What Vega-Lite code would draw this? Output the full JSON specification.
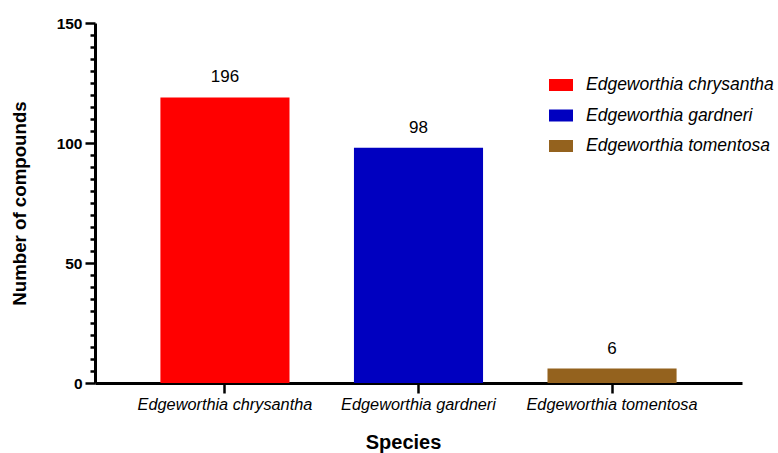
{
  "$schema": "https://vega.github.io/schema/vega-lite/v6.json",
  "width": 647,
  "height": 360,
  "autosize": {"type": "none"},
  "padding": {"left": 95, "top": 23, "right": 36, "bottom": 70},
  "background": "white",
  "config": {
    "view": {"stroke": null},
    "font": "Liberation Sans"
  },
  "data": {
    "values": [
      {"species": "Edgeworthia chrysantha", "bar_height": 119, "label": 196},
      {"species": "Edgeworthia gardneri", "bar_height": 98, "label": 98},
      {"species": "Edgeworthia tomentosa", "bar_height": 6, "label": 6}
    ]
  },
  "encoding": {
    "x": {
      "field": "species",
      "type": "nominal",
      "sort": null,
      "scale": {"paddingInner": 0.333, "paddingOuter": 0.338, "align": 0.5},
      "axis": {
        "title": "Species",
        "titleFont": "Liberation Sans",
        "titleFontSize": 20,
        "titleFontWeight": "bold",
        "titleColor": "black",
        "titlePadding": 20,
        "titleX": 308,
        "titleAlign": "center",
        "labelAngle": 0,
        "labelFont": "Liberation Sans",
        "labelFontSize": 16.3,
        "labelFontStyle": "italic",
        "labelColor": "black",
        "labelPadding": 3,
        "tickSize": 10,
        "tickWidth": 2.5,
        "tickColor": "black",
        "domainColor": "black",
        "domainWidth": 3
      }
    },
    "y": {
      "field": "bar_height",
      "type": "quantitative",
      "scale": {"domain": [0, 150], "nice": false},
      "axis": {
        "title": "Number of compounds",
        "titleFont": "Liberation Sans",
        "titleFontSize": 18.7,
        "titleFontWeight": "bold",
        "titleColor": "black",
        "titlePadding": 27,
        "values": [0, 5, 10, 15, 20, 25, 30, 35, 40, 45, 50, 55, 60, 65, 70, 75, 80, 85, 90, 95, 100, 105, 110, 115, 120, 125, 130, 135, 140, 145, 150],
        "labelExpr": "datum.value % 50 === 0 ? datum.label : ''",
        "labelFont": "Liberation Sans",
        "labelFontSize": 15.5,
        "labelFontWeight": "bold",
        "labelColor": "black",
        "labelPadding": 3,
        "tickSize": {"condition": {"test": "datum.value % 50 === 0", "value": 10}, "value": 5},
        "tickWidth": 2.5,
        "tickColor": "black",
        "domainColor": "black",
        "domainWidth": 3,
        "grid": false
      }
    }
  },
  "layer": [
    {
      "mark": {"type": "bar"},
      "encoding": {
        "color": {
          "field": "species",
          "type": "nominal",
          "sort": null,
          "scale": {
            "domain": ["Edgeworthia chrysantha", "Edgeworthia gardneri", "Edgeworthia tomentosa"],
            "range": ["#FF0000", "#0000C0", "#94621E"]
          },
          "legend": {
            "title": null,
            "orient": "none",
            "legendX": 454,
            "legendY": 50,
            "symbolType": "M-1,-0.5H1V0.5H-1Z",
            "symbolSize": 576,
            "symbolStrokeWidth": 0,
            "symbolOpacity": 1,
            "labelFont": "Liberation Sans",
            "labelFontSize": 17.5,
            "labelFontStyle": "italic",
            "labelColor": "black",
            "labelOffset": 13,
            "rowPadding": 9.5,
            "labelLimit": 300
          }
        }
      }
    },
    {
      "mark": {"type": "text", "baseline": "bottom", "dy": -11, "fontSize": 17, "font": "Liberation Sans", "color": "black"},
      "encoding": {
        "text": {"field": "label", "type": "quantitative"}
      }
    }
  ]
}
